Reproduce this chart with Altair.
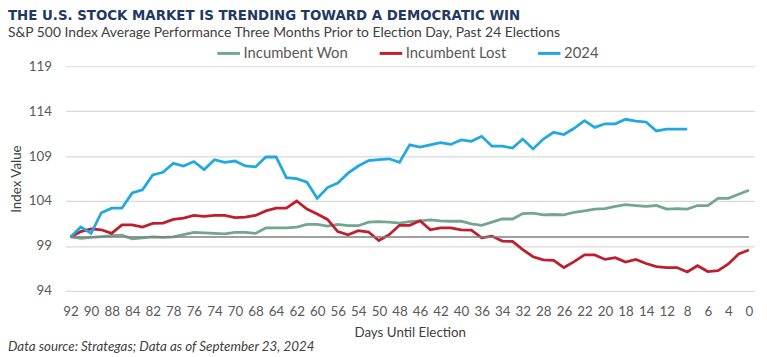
import json
import altair as alt
import pandas as pd

# ---- data ----
day_labels = ["92", "90", "88", "84", "82", "78", "76", "74", "70", "68", "64", "62",
              "60", "56", "54", "50", "48", "46", "42", "40", "36", "34", "32", "28",
              "26", "22", "20", "18", "14", "12", "8", "6", "4", "0"]

incumbent_won = [100.0, 99.85, 99.95, 100.05, 100.15, 100.2, 99.8, 99.9, 100.0, 99.95,
                 100.0, 100.25, 100.5, 100.45, 100.4, 100.35, 100.5, 100.5, 100.4, 101.0,
                 101.0, 101.0, 101.1, 101.4, 101.4, 101.2, 101.4, 101.25, 101.25, 101.65,
                 101.7, 101.65, 101.55, 101.7, 101.8, 101.9, 101.8, 101.75, 101.75, 101.45,
                 101.3, 101.65, 102.0, 102.0, 102.6, 102.65, 102.45, 102.5, 102.45, 102.75,
                 102.9, 103.1, 103.15, 103.4, 103.6, 103.5, 103.4, 103.5, 103.1, 103.15,
                 103.1, 103.5, 103.5, 104.3, 104.3, 104.75, 105.2]

incumbent_lost = [100.0, 100.6, 100.9, 100.8, 100.4, 101.35, 101.35, 101.1, 101.5, 101.55,
                  101.95, 102.1, 102.4, 102.3, 102.4, 102.4, 102.15, 102.2, 102.4, 102.9,
                  103.2, 103.2, 104.0, 103.1, 102.55, 101.95, 100.6, 100.25, 100.7, 100.55,
                  99.6, 100.25, 101.3, 101.3, 101.8, 100.8, 101.0, 101.0, 100.8, 100.75,
                  99.9, 100.1, 99.55, 99.5, 98.6, 97.8, 97.45, 97.4, 96.6, 97.25,
                  98.0, 98.0, 97.5, 97.7, 97.2, 97.5, 97.05, 96.7, 96.6, 96.6,
                  96.1, 96.8, 96.15, 96.25, 97.0, 98.1, 98.55]

y2024 = [100.0, 101.1, 100.4, 102.7, 103.2, 103.2, 104.9, 105.25, 106.9, 107.2,
         108.2, 107.9, 108.4, 107.5, 108.6, 108.3, 108.45, 107.9, 107.8, 108.9,
         108.9, 106.6, 106.5, 106.1, 104.3, 105.5, 106.0, 107.1, 107.9, 108.5,
         108.6, 108.7, 108.3, 110.25, 110.0, 110.25, 110.5, 110.3, 110.8, 110.65,
         111.2, 110.1, 110.1, 109.9, 110.9, 109.8, 110.9, 111.65, 111.4, 112.1,
         112.95, 112.2, 112.6, 112.6, 113.1, 112.9, 112.8, 111.8, 112.0, 112.0,
         112.0]

series_names = ["Incumbent Won", "Incumbent Lost", "2024"]
series_colors = ["#72A78E", "#BE1E2D", "#20A8E0"]
y_ticks = [94, 99, 104, 109, 114, 119]
baseline_value = 100

rows = []
for name, vals in zip(series_names, [incumbent_won, incumbent_lost, y2024]):
    for i, v in enumerate(vals):
        rows.append({"idx": i, "value": v, "series": name})
df = pd.DataFrame(rows)

n_points = len(incumbent_won)
tick_idx = list(range(0, n_points, 2))
label_expr = json.dumps(day_labels) + "[round(datum.value / 2)]"

FONT = "Lato"
TXT = "#595959"

x_scale = alt.Scale(domain=[-0.5, n_points - 0.5], nice=False, zero=False)
y_scale = alt.Scale(domain=[94, 119], nice=False, zero=False)

x_axis = alt.Axis(values=tick_idx, labelExpr=label_expr, grid=False, domain=False,
                  ticks=False, labelPadding=14, labelFontSize=13.5, labelColor=TXT,
                  labelFont=FONT, title="Days Until Election", titleFont=FONT,
                  titleFontSize=13.5, titleFontWeight="normal", titleColor="#404040",
                  titlePadding=8, labelFlush=False, labelOverlap=False,
                  labelSeparation=0)
y_axis = alt.Axis(values=y_ticks, grid=True, gridColor="#D9D9D9", gridWidth=1.2,
                  domain=False, ticks=False, labelPadding=14, labelFontSize=13.5,
                  labelColor=TXT, labelFont=FONT, title="Index Value", titleFont=FONT,
                  titleFontSize=13.5, titleFontWeight="normal", titleColor="#404040",
                  titlePadding=5, labelOverlap=False)

lines = alt.Chart(df).mark_line(strokeWidth=2.8).encode(
    x=alt.X("idx:Q", scale=x_scale, axis=x_axis),
    y=alt.Y("value:Q", scale=y_scale, axis=y_axis),
    color=alt.Color("series:N",
                    scale=alt.Scale(domain=series_names, range=series_colors),
                    sort=series_names,
                    legend=alt.Legend(orient="none", legendX=152, legendY=-26,
                                      direction="horizontal", title=None,
                                      symbolType="stroke", symbolStrokeWidth=3,
                                      symbolSize=520, labelFont=FONT,
                                      labelFontSize=15, labelColor=TXT,
                                      labelOffset=2, columnPadding=25)),
    detail="series:N",
)

base = alt.Chart(pd.DataFrame({"v": [baseline_value]})).mark_rule(
    color="#7F7F7F", strokeWidth=1.6
).encode(
    y=alt.Y("v:Q", scale=y_scale, axis=y_axis),
    x=alt.datum(0, scale=x_scale, axis=x_axis),
    x2=alt.datum(n_points - 1),
)

foot = alt.Chart(pd.DataFrame({"t": ["Data source: Strategas; Data as of September 23, 2024"]})).mark_text(
    align="left", baseline="middle", font=FONT, fontSize=13.5, fontStyle="italic",
    color="#404040"
).encode(text="t:N", x=alt.value(-58), y=alt.value(284))

chart = alt.layer(lines, base, foot).properties(
    width=696, height=227,
    padding={"left": 58, "top": 57, "right": 5, "bottom": 70},
    autosize=alt.AutoSizeParams(type="none"),
    title=alt.TitleParams(
        text="THE U.S. STOCK MARKET IS TRENDING TOWARD A DEMOCRATIC WIN",
        subtitle="S&P 500 Index Average Performance Three Months Prior to Election Day, Past 24 Elections",
        anchor="start", frame="group", dx=-58, offset=1,
        font="DejaVu Sans", fontSize=13.5, fontWeight="bold", color="#1F3864",
        subtitleFont=FONT, subtitleFontSize=14, subtitleColor="#404040",
        subtitlePadding=3,
    ),
).configure_view(stroke=None).configure_axis(labelOverlap=False)

chart.save("out.html", embed_options={"renderer": "svg", "actions": False})
